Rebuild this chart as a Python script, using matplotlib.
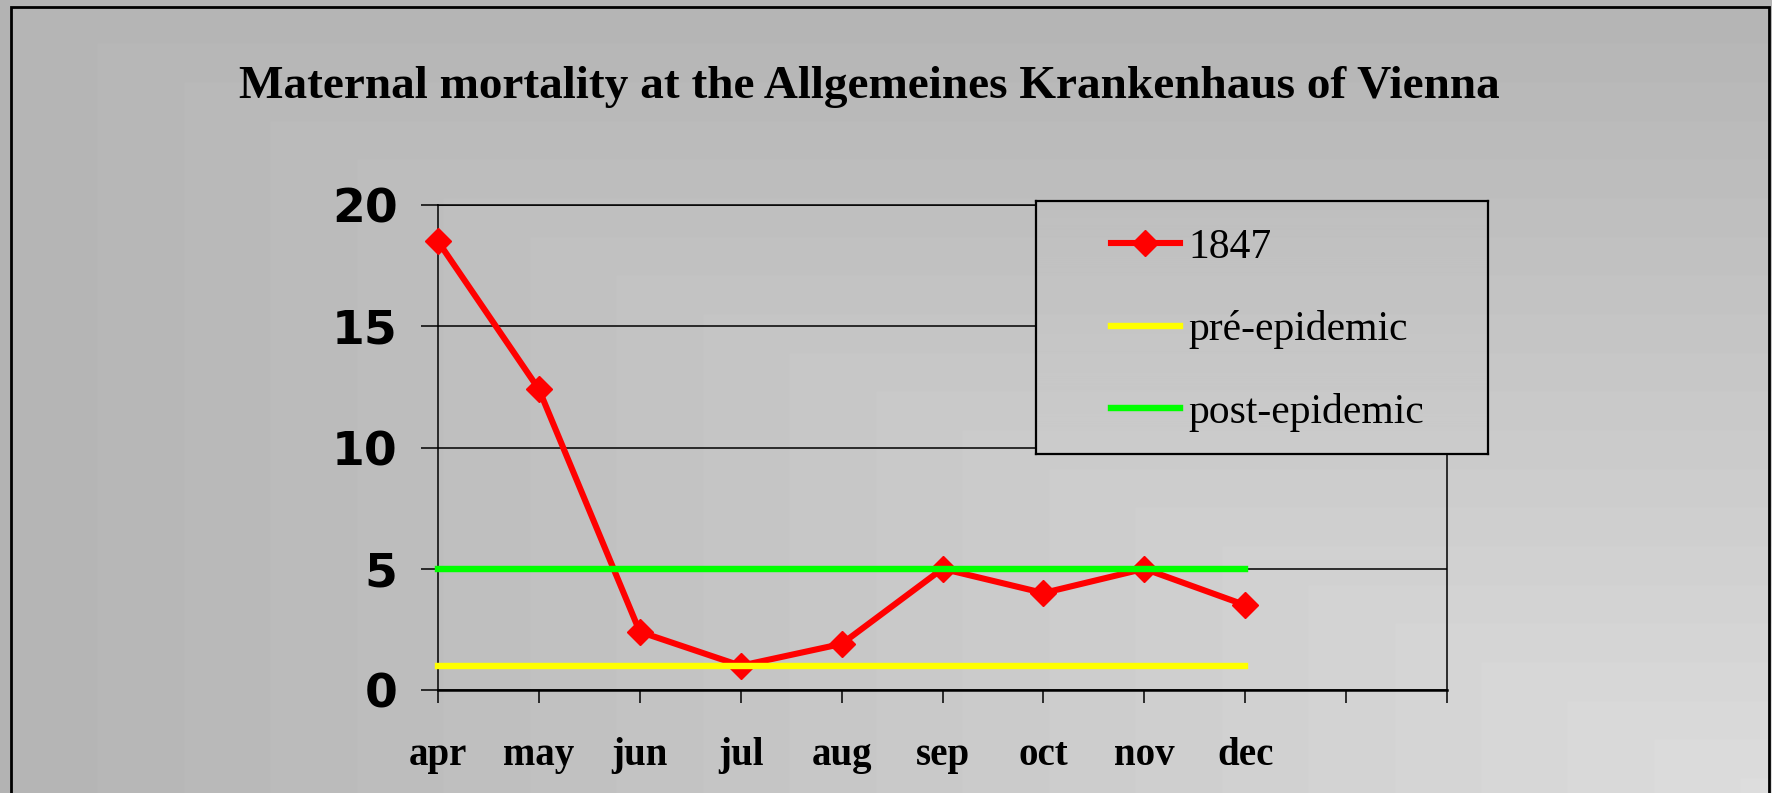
import numpy as np
import matplotlib
matplotlib.use('Agg')
import matplotlib.pyplot as plt
from matplotlib.patches import Rectangle

plt.rcParams['font.family'] = 'Liberation Serif'
plt.rcParams['axes.linewidth'] = 1.1

months = ['apr', 'may', 'jun', 'jul', 'aug', 'sep', 'oct', 'nov', 'dec']
mortality_1847 = [18.5, 12.4, 2.4, 1.0, 1.9, 5.0, 4.0, 5.0, 3.5]
pre_epidemic = [1.0, 1.0, 1.0, 1.0, 1.0, 1.0, 1.0, 1.0, 1.0]
post_epidemic = [5.0, 5.0, 5.0, 5.0, 5.0, 5.0, 5.0, 5.0, 5.0]
series_labels = ['1847', 'pré-epidemic', 'post-epidemic']
yticks = [0, 5, 10, 15, 20]
n_slots = 11

W, H = 1772, 793
fig = plt.figure(figsize=(W / 100, H / 100), dpi=100)

# grey "from corner" gradient, darker top-left, lighter bottom-right
xx = np.linspace(0, 1, W)[None, :]
yy = np.linspace(0, 1, H)[:, None]
grad = 0.706 + 0.16 * np.minimum(xx, yy)

bg = fig.add_axes([0, 0, 1, 1], zorder=-10)
bg.imshow(grad, extent=(0, 1, 0, 1), aspect='auto', cmap='gray', vmin=0, vmax=1)
bg.axis('off')

# plot area in pixels: left 438, right 1447, top 205, bottom 690
ax = fig.add_axes([438 / W, 1 - 690 / H, (1447 - 438) / W, (690 - 205) / H])
ax.patch.set_visible(False)

x = np.arange(len(months))
l1, = ax.plot(x, mortality_1847, color='#ff0000', lw=4.4, marker='D', ms=13,
              clip_on=False, zorder=3)
l2, = ax.plot(x, pre_epidemic, color='#ffff00', lw=4.6, clip_on=False,
              solid_capstyle='projecting', zorder=4)
l3, = ax.plot(x, post_epidemic, color='#00ff00', lw=4.6, clip_on=False,
              solid_capstyle='projecting', zorder=4)

ax.set_xlim(0, n_slots - 1)
ax.set_ylim(0, 20)
ax.set_xticks(range(n_slots))
ax.set_xticklabels(months + [''] * (n_slots - len(months)),
                   fontsize=28, fontweight='bold')
ax.set_yticks(yticks)
ax.set_yticklabels([str(v) for v in yticks], fontsize=34, fontweight='bold',
                   family='DejaVu Sans')
ax.tick_params(axis='x', direction='out', length=9, width=1.1, pad=25)
ax.tick_params(axis='y', direction='out', length=12, width=1.1, pad=17)
ax.yaxis.grid(True, color='black', lw=1.1)
ax.set_axisbelow(True)
ax.spines['bottom'].set_linewidth(1.8)

fig.text(869 / W, 1 - 87 / H,
         'Maternal mortality at the Allgemeines Krankenhaus of Vienna',
         ha='center', va='center', fontsize=34, fontweight='bold')

# legend box, pixels: left 1036, right 1488, top 201, bottom 454
lx0, lx1, ly0, ly1 = 1036, 1488, 201, 454
lax = fig.add_axes([lx0 / W, 1 - ly1 / H, (lx1 - lx0) / W, (ly1 - ly0) / H], zorder=5)
lax.imshow(grad[ly0:ly1, lx0:lx1], extent=(0, 1, 0, 1), aspect='auto',
           cmap='gray', vmin=0, vmax=1)
lax.set_xticks([])
lax.set_yticks([])
for s in lax.spines.values():
    s.set_linewidth(1.6)
    s.set_color('black')

lax.legend([l1, l2, l3], series_labels, loc='center left',
           bbox_to_anchor=(1111 / W, 1 - 330 / H), bbox_transform=fig.transFigure,
           frameon=False, fontsize=30, borderpad=0, borderaxespad=0,
           handlelength=1.65, handletextpad=0.2, labelspacing=1.05, numpoints=1)

# outer border (open at the bottom)
fig.add_artist(Rectangle((11 / W, -0.05), (1769 - 11) / W, (H - 7) / H + 0.05,
                         transform=fig.transFigure, fill=False, lw=2, ec='black'))

plt.savefig('out.png', dpi=100)
plt.close()
